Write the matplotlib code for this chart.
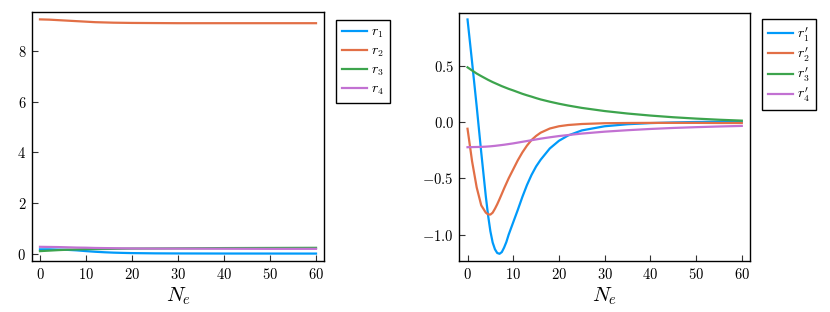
import matplotlib
matplotlib.use("Agg")
import matplotlib.pyplot as plt

plt.rcParams['font.family'] = 'serif'
plt.rcParams['font.serif'] = ['cmr10']
plt.rcParams['mathtext.fontset'] = 'cm'
plt.rcParams['axes.formatter.use_mathtext'] = True
plt.rcParams['axes.unicode_minus'] = True

colors = ['#009AFA', '#E26F46', '#3DA44D', '#C271D2']

# Left panel data
left_x = [0, 2, 4, 6, 8, 10, 12, 14, 16, 18, 20, 25, 30, 40, 50, 60]
left_r1 = [0.17, 0.17, 0.16, 0.15, 0.13, 0.10, 0.075, 0.055, 0.04, 0.03, 0.022, 0.012, 0.008, 0.005, 0.004, 0.003]
left_r2 = [9.25, 9.24, 9.22, 9.20, 9.18, 9.16, 9.14, 9.13, 9.12, 9.115, 9.11, 9.105, 9.10, 9.10, 9.10, 9.10]
left_r3 = [0.10, 0.12, 0.14, 0.155, 0.165, 0.175, 0.18, 0.185, 0.19, 0.195, 0.20, 0.205, 0.21, 0.22, 0.225, 0.23]
left_r4 = [0.27, 0.265, 0.26, 0.25, 0.24, 0.235, 0.225, 0.22, 0.215, 0.21, 0.205, 0.20, 0.20, 0.195, 0.19, 0.19]
left_labels = [r'$r_1$', r'$r_2$', r'$r_3$', r'$r_4$']

# Right panel data
right_x = [0, 1, 2, 3, 4, 4.5, 5, 5.5, 6, 6.5, 7, 7.5, 8, 8.5, 9, 10, 11, 12, 13, 14, 15, 16, 18, 20, 22, 25, 30,
           35, 40, 45, 50, 55, 60]
right_r1 = [0.91, 0.53, 0.14, -0.27, -0.66, -0.83, -0.97, -1.07, -1.13, -1.163, -1.17, -1.155, -1.115, -1.065, -1.0,
            -0.89, -0.78, -0.665, -0.56, -0.47, -0.395, -0.335, -0.235, -0.167, -0.12, -0.075, -0.038, -0.02,
            -0.01, -0.004, 0.0, 0.002, 0.003]
right_r2 = [-0.06, -0.35, -0.58, -0.74, -0.805, -0.82, -0.822, -0.805, -0.77, -0.73, -0.685, -0.638, -0.59, -0.545,
            -0.50, -0.42, -0.34, -0.27, -0.21, -0.16, -0.124, -0.095, -0.058, -0.038, -0.027, -0.018, -0.011,
            -0.009, -0.008, -0.008, -0.008, -0.009, -0.009]
right_r3 = [0.485, 0.457, 0.43, 0.407, 0.385, 0.374, 0.364, 0.354, 0.345, 0.336, 0.327, 0.318, 0.31, 0.302, 0.294,
            0.28, 0.265, 0.25, 0.237, 0.225, 0.212, 0.20, 0.18, 0.162, 0.146, 0.125, 0.097, 0.075, 0.057, 0.042,
            0.03, 0.02, 0.012]
right_r4 = [-0.224, -0.223, -0.222, -0.221, -0.219, -0.2175, -0.216, -0.214, -0.212, -0.2095, -0.207, -0.2045, -0.202,
            -0.199, -0.196, -0.19, -0.183, -0.176, -0.169, -0.162, -0.155, -0.148, -0.136, -0.125, -0.116, -0.103,
            -0.086, -0.073, -0.062, -0.053, -0.046, -0.04, -0.035]
right_labels = [r"$r^{\prime}_{1}$", r"$r^{\prime}_{2}$", r"$r^{\prime}_{3}$", r"$r^{\prime}_{4}$"]

xticks = [0, 10, 20, 30, 40, 50, 60]
left_yticks = [0, 2, 4, 6, 8]
right_yticks = [-1.0, -0.5, 0.0, 0.5]

W, H = 830, 312
fig = plt.figure(figsize=(W / 100, H / 100), dpi=100)

def ax_rect(x0, y0, x1, y1):
    return [x0 / W, 1 - y1 / H, (x1 - x0) / W, (y1 - y0) / H]

axL = fig.add_axes(ax_rect(31.7, 12.3, 324.3, 261))
axR = fig.add_axes(ax_rect(459.3, 12.7, 750, 261))

def style(ax):
    for s in ax.spines.values():
        s.set_linewidth(1.0)
        s.set_color('black')
    ax.tick_params(direction='in', length=4, width=0.8, color='#333333', labelsize=10.5, pad=4)
    ax.set_xticks(xticks)
    ax.set_xlim(-1.8, 61.8)
    ax.set_xlabel(r'$N_e$', fontsize=15, labelpad=3)

for y, c, lab in zip([left_r1, left_r2, left_r3, left_r4], colors, left_labels):
    axL.plot(left_x, y, color=c, lw=1.6, label=lab)
style(axL)
axL.set_yticks(left_yticks)
axL.set_ylim(-0.29, 9.53)

for y, c, lab in zip([right_r1, right_r2, right_r3, right_r4], colors, right_labels):
    axR.plot(right_x, y, color=c, lw=1.6, label=lab)
style(axR)
axR.set_yticks(right_yticks)
axR.set_ylim(-1.234, 0.97)

def legend(ax, x_px_left, y_px_top, ax_x0, ax_x1, ax_y0, ax_y1, spacing):
    bx = (x_px_left - ax_x0) / (ax_x1 - ax_x0)
    by = (ax_y1 - y_px_top) / (ax_y1 - ax_y0)
    leg = ax.legend(loc='upper left', bbox_to_anchor=(bx, by), borderaxespad=0,
                    fontsize=10, frameon=True, fancybox=False, handlelength=1.8,
                    handletextpad=0.3, labelspacing=spacing, borderpad=0.45)
    fr = leg.get_frame()
    fr.set_edgecolor('black')
    fr.set_linewidth(1.0)
    fr.set_alpha(1)

legend(axL, 335.7, 20, 31.7, 324.3, 12.3, 261, 0.35)
legend(axR, 761.7, 19, 459.3, 750, 12.7, 261, 0.12)

fig.savefig('out.png', dpi=100)
